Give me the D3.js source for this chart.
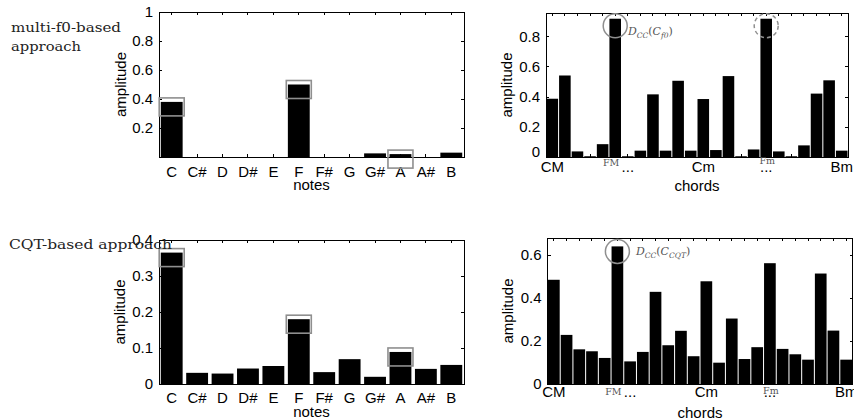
<!DOCTYPE html>
<html><head><meta charset="utf-8">
<script src="https://cdn.jsdelivr.net/npm/d3@7"></script>
<style>body{margin:0;background:#fff}svg{display:block}</style>
</head><body><svg id="c" width="854" height="420"></svg>
<script>
// ---------------- data ----------------
const notes = ["C","C#","D","D#","E","F","F#","G","G#","A","A#","B"];
const f0Notes  = [0.38, 0, 0, 0, 0, 0.50, 0, 0, 0.025, 0.02, 0, 0.03];
const cqtNotes = [0.365, 0.031, 0.029, 0.043, 0.05, 0.18, 0.033, 0.069, 0.02, 0.089, 0.042, 0.053];
const chords = ["CM","C#M","DM","D#M","EM","FM","F#M","GM","G#M","AM","A#M","BM",
                "Cm","C#m","Dm","D#m","Em","Fm","F#m","Gm","G#m","Am","A#m","Bm"];
const f0Chords  = [0.386,0.54,0.037,0.005,0.085,0.916,0.005,0.042,0.415,0.042,0.505,0.042,
                   0.384,0.046,0.536,0.005,0.05,0.916,0.037,0.005,0.077,0.42,0.508,0.042];
const cqtChords = [0.484,0.228,0.161,0.152,0.121,0.639,0.105,0.149,0.428,0.18,0.247,0.129,
                   0.477,0.099,0.304,0.116,0.171,0.561,0.163,0.138,0.113,0.513,0.248,0.113];
const chordTickCats  = ["CM","F#M","Cm","Fm","Bm"];
const chordTickTexts = ["CM","...","Cm","...","Bm"];
const chordNameCats  = ["FM","Fm"];
const chordNameTexts = ["FM","Fm"];
const boxedNotes = ["C","F","A"];
const yTicksF0Notes  = [0.2,0.4,0.6,0.8,1];
const yTicksCqtNotes = [0,0.1,0.2,0.3,0.4];
const yTicksF0Chords = [0,0.2,0.4,0.6,0.8];
const yTicksCqtChords= [0,0.2,0.4,0.6];
const rowLabels = [["multi-f0-based","approach"],["CQT-based approach"]];

// ---------------- drawing ----------------
const svg = d3.select("#c");
const SANS = "'Liberation Sans', Arial, Helvetica, sans-serif";
const SERIF = "'DejaVu Serif', 'Liberation Serif', serif";

function panel(o){
  const g = svg.append("g");
  const x = d3.scaleBand().domain(o.cats).range([o.x0,o.x1]).paddingInner(o.pad).paddingOuter(o.pad/2);
  const y = d3.scaleLinear().domain([0,o.ymax]).range([o.y1,o.y0]);
  const cx = c => x(c)+x.bandwidth()/2;

  g.selectAll("rect.bar").data(o.values).join("rect").attr("class","bar")
    .attr("x",(d,i)=>x(o.cats[i])).attr("width",x.bandwidth())
    .attr("y",d=>y(d)).attr("height",d=>y(0)-y(d)).attr("fill","#000");

  const styleAxis = a => { a.select(".domain").remove();
    a.selectAll("line").attr("stroke","#000").attr("shape-rendering","crispEdges");
    a.selectAll("text").attr("font-family",SANS).attr("font-size",15).attr("fill","#000"); };

  const fmt = o.xfmt || (d=>d);
  g.append("g").attr("transform",`translate(0,${o.y1})`)
    .call(d3.axisBottom(x).tickSizeInner(-3).tickSizeOuter(0).tickPadding(o.xpad).tickFormat(fmt)).call(styleAxis);
  g.append("g").attr("transform",`translate(0,${o.y0})`)
    .call(d3.axisTop(x).tickSizeInner(-3).tickSizeOuter(0).tickFormat("")).call(styleAxis);
  g.append("g").attr("transform",`translate(${o.x0},0)`)
    .call(d3.axisLeft(y).tickValues(o.yticks).tickSizeInner(-3).tickSizeOuter(0).tickPadding(6).tickFormat(d=>String(d))).call(styleAxis)
    .selectAll("text").attr("dy", d => (o.zeroUp && d===0) ? "-0.05em" : "0.32em");
  g.append("g").attr("transform",`translate(${o.x1},0)`)
    .call(d3.axisRight(y).tickValues(o.yticks).tickSizeInner(-3).tickSizeOuter(0).tickFormat("")).call(styleAxis);

  g.append("rect").attr("x",o.x0).attr("y",o.y0).attr("width",o.x1-o.x0).attr("height",o.y1-o.y0)
    .attr("fill","none").attr("stroke","#000").attr("stroke-width",1).attr("shape-rendering","crispEdges");

  g.append("text").attr("transform",`translate(${o.ylabX},${(o.y0+o.y1)/2}) rotate(-90)`)
    .attr("text-anchor","middle").attr("font-family",SANS).attr("font-size",15).text("amplitude");
  g.append("text").attr("x",(o.x0+o.x1)/2).attr("y",o.xlabY).attr("text-anchor","middle")
    .attr("font-family",SANS).attr("font-size",15).text(o.xlabel);

  return {g,x,y,cx};
}

function boxes(p, values){
  p.g.selectAll("rect.hl").data(boxedNotes).join("rect").attr("class","hl")
    .attr("x",c=>p.cx(c)-12.5).attr("width",25)
    .attr("y",c=>p.y(values[notes.indexOf(c)])-4).attr("height",18)
    .attr("fill","none").attr("stroke","#8f8f8f").attr("stroke-width",1.6);
}

function chordExtras(p, values, circles, label, lx, ly){
  p.g.selectAll("circle.hl").data(circles).join("circle").attr("class","hl")
    .attr("cx",d=>p.cx(d.c)).attr("cy",d=>p.y(values[chords.indexOf(d.c)])+d.dy).attr("r",12)
    .attr("fill","none").attr("stroke","#8f8f8f").attr("stroke-width",1.5)
    .attr("stroke-dasharray",d=>d.dash?"4,3":null);
  const t = p.g.append("text").attr("x",lx).attr("y",ly).attr("font-family",SERIF).attr("fill","#555").attr("font-size",11);
  t.append("tspan").attr("font-style","italic").text("D");
  t.append("tspan").attr("font-style","italic").attr("font-size",7.5).attr("dy",2.5).text("CC");
  t.append("tspan").attr("dy",-2.5).text("(");
  t.append("tspan").attr("font-style","italic").text("C");
  t.append("tspan").attr("font-style","italic").attr("font-size",7.5).attr("dy",2.5).text(label);
  t.append("tspan").attr("dy",-2.5).text(")");
}

function chordNames(p, ys){
  p.g.selectAll("text.cn").data(chordNameCats).join("text").attr("class","cn")
    .attr("x",(c,i)=>p.cx(c)+(i===0?-4:1)).attr("y",(c,i)=>ys[i]).attr("text-anchor","middle")
    .attr("font-family",SERIF).attr("font-size",9.5).attr("fill","#555").text((c,i)=>chordNameTexts[i]);
}

const chordFmt = d => { const k = chordTickCats.indexOf(d); return k<0 ? "" : chordTickTexts[k]; };

// top-left
const p1 = panel({cats:notes, values:f0Notes, x0:159, x1:464, y0:12, y1:157, ymax:1, pad:0.14,
  yticks:yTicksF0Notes, xpad:9, xlabel:"notes", xlabY:190, ylabX:126});
boxes(p1, f0Notes);
// top-right
const p2 = panel({cats:chords, values:f0Chords, x0:546, x1:848, y0:13, y1:157, ymax:0.954, pad:0.08,
  yticks:yTicksF0Chords, xpad:4, xfmt:chordFmt, xlabel:"chords", xlabY:191, ylabX:512, zeroUp:true});
chordExtras(p2, f0Chords, [{c:"FM",dy:7,dash:false},{c:"Fm",dy:7,dash:true}], "f0", 628, 35);
chordNames(p2, [166, 164]);
// bottom-left
const p3 = panel({cats:notes, values:cqtNotes, x0:159, x1:464, y0:240, y1:384, ymax:0.4, pad:0.14,
  yticks:yTicksCqtNotes, xpad:8, xlabel:"notes", xlabY:417, ylabX:125});
boxes(p3, cqtNotes);
// bottom-right
const p4 = panel({cats:chords, values:cqtChords, x0:547.5, x1:852.5, y0:238, y1:384, ymax:0.678, pad:0.08,
  yticks:yTicksCqtChords, xpad:2, xfmt:chordFmt, xlabel:"chords", xlabY:418, ylabX:513});
chordExtras(p4, cqtChords, [{c:"FM",dy:5,dash:false}], "CQT", 636, 255);
chordNames(p4, [395, 394]);

// row labels
const rl = svg.append("g").attr("font-family",SERIF).attr("fill","#222").attr("font-size",12);
rl.append("text").attr("x",11).attr("y",32).attr("textLength",110).attr("lengthAdjust","spacingAndGlyphs").text(rowLabels[0][0]);
rl.append("text").attr("x",11).attr("y",51).attr("textLength",70).attr("lengthAdjust","spacingAndGlyphs").text(rowLabels[0][1]);
rl.append("text").attr("x",9).attr("y",249).attr("textLength",163).attr("lengthAdjust","spacingAndGlyphs").text(rowLabels[1][0]);
</script></body></html>
